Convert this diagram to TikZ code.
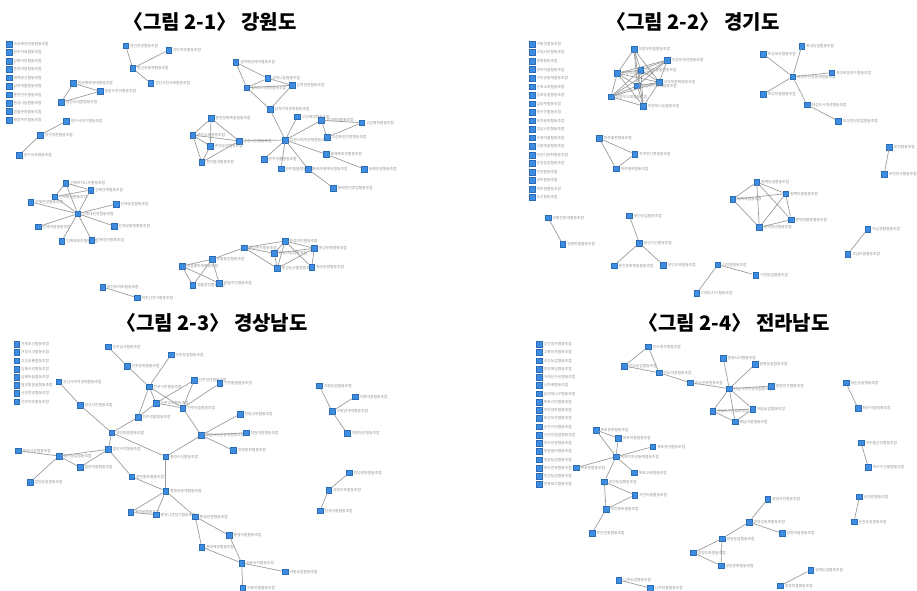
\documentclass[tikz,border=0pt]{standalone}
\usepackage{fontspec}
\newfontfamily\kr{Noto Sans CJK KR}
\definecolor{nodeblue}{HTML}{3D8DE2}
\definecolor{nodeedge}{HTML}{2B6CB3}
\definecolor{linkgray}{HTML}{9C9C9C}
\definecolor{labelgray}{HTML}{909090}

\begin{document}
\begin{tikzpicture}[
    x=0.5pt, y=-0.5pt,
    label distance=0.5pt,
    co/.style={rectangle, draw=nodeedge, line width=0.25pt, fill=nodeblue,
      inner sep=0pt, minimum size=2.9pt, label={[lbl]right:#1}},
    lbl/.style={font=\kr\fontsize{1.9}{2.2}\selectfont, text=labelgray, inner sep=0pt},
    link/.style={draw=linkgray, line width=0.35pt},
    title/.style={font=\kr\bfseries\fontsize{10}{12}\selectfont, inner sep=0pt}
  ]
  \useasboundingbox (0,0) rectangle (917,590);

  % titles
  \node[title] (t1) at (210,22) {〈그림 2-1〉 강원도};
  \node[title] (t2) at (693,22) {〈그림 2-2〉 경기도};
  \node[title] (t3) at (212,323) {〈그림 2-3〉 경상남도};
  \node[title] (t4) at (734,323) {〈그림 2-4〉 전라남도};

  %% 강원도
  \foreach \i/\t in {1/속초해양관광협동조합, 2/원주의료협동조합, 3/강릉커피협동조합,
      4/춘천마을협동조합, 5/태백광산협동조합, 6/삼척재활협동조합, 7/홍천한우협동조합,
      8/횡성나눔협동조합, 9/영월문화협동조합, 10/평창주민협동조합}
    \node[co=\t] (ga\i) at (9,{44+(\i-1)*8.45}) {};

  \node[co=정선관광협동조합] (gb1) at (125.7,45.7) {};
  \node[co=정선약초협동조합] (gb2) at (168.7,50) {};
  \node[co=정선공동체협동조합] (gb0) at (132.7,68.3) {};
  \node[co=정선고한사북협동조합] (gb3) at (150.7,83.3) {};

  \node[co=철원평화생태협동조합] (gc1) at (73.3,83.3) {};
  \node[co=철원두루미협동조합] (gc2) at (100,91.3) {};
  \node[co=철원오대쌀협동조합] (gc3) at (61.3,102.3) {};

  \node[co=양구시래기협동조합] (gd1) at (66.3,121) {};
  \node[co=양구청춘협동조합] (gd2) at (40.3,135) {};
  \node[co=양구교육협동조합] (gd3) at (19.3,155) {};

  \node[co=삼척해양레저협동조합] (ge1) at (235.7,62.3) {};
  \node[co=삼척나눔협동조합] (ge2) at (267.7,78.3) {};
  \node[co=삼척도시재생협동조합] (ge3) at (246.7,87.7) {};
  \node[co=삼척관광협동조합] (ge4) at (292,85.3) {};
  \node[co=삼척지역문화협동조합] (ge5) at (270,109.3) {};

  \node[co=강원사회적경제협동조합] (gh) at (285.3,140) {};
  \node[co=고성해양협동조합] (gf1) at (297.3,116.7) {};
  \node[co=고성명태협동조합] (gf2) at (321.3,120.3) {};
  \node[co=고성평화협동조합] (gf3) at (361.7,122.7) {};
  \node[co=고성통일전망협동조합] (gf4) at (327,137.3) {};
  \node[co=동해묵호항협동조합] (gf5) at (326,154.3) {};
  \node[co=동해관광협동조합] (gf6) at (364.3,169) {};
  \node[co=원주생활협동조합] (gf7) at (264,159.3) {};
  \node[co=원주돌봄협동조합] (gf8) at (281,168.7) {};
  \node[co=동해무릉계곡협동조합] (gf9) at (308,169) {};
  \node[co=동해청년창업협동조합] (gf10) at (333.3,188) {};

  \node[co=춘천시민협동조합] (gk) at (239,141) {};
  \node[co=춘천문화예술협동조합] (gl1) at (211,118.3) {};
  \node[co=춘천교육협동조합] (gl2) at (192.7,135) {};
  \node[co=춘천농업협동조합] (gl3) at (210.3,146.3) {};
  \node[co=춘천봄내협동조합] (gl4) at (201.7,162.3) {};

  \node[co=인제내린천협동조합] (gs) at (77.7,213.7) {};
  \node[co=인제자작나무협동조합] (gs1) at (65.7,183) {};
  \node[co=인제산채협동조합] (gs2) at (90.7,190) {};
  \node[co=인제황태협동조합] (gs3) at (54.7,196.7) {};
  \node[co=인제관광협동조합] (gs4) at (30.7,202) {};
  \node[co=인제농업협동조합] (gs5) at (116,204) {};
  \node[co=인제마을협동조합] (gs6) at (38,226.7) {};
  \node[co=인제공동체협동조합] (gs7) at (114,226) {};
  \node[co=인제레포츠협동조합] (gs8) at (61.7,241) {};
  \node[co=인제청년협동조합] (gs9) at (91.7,240.3) {};

  \node[co=화천토마토협동조합] (gp1) at (102.7,287) {};
  \node[co=화천산천어협동조합] (gp2) at (137,297.7) {};

  \node[co=영월동강협동조합] (gm1) at (212,259.3) {};
  \node[co=영월별마로협동조합] (gm2) at (182,266) {};
  \node[co=영월청정협동조합] (gm3) at (192.7,285.3) {};
  \node[co=영월주민협동조합] (gm4) at (219.3,283.3) {};

  \node[co=횡성한우협동조합] (gr1) at (244.3,247.7) {};
  \node[co=횡성더덕협동조합] (gr2) at (285,241) {};
  \node[co=횡성나눔협동조합] (gr3) at (274.3,253.3) {};
  \node[co=횡성문화협동조합] (gr4) at (314.3,248.3) {};
  \node[co=횡성농산물협동조합] (gr5) at (277.3,268.3) {};
  \node[co=횡성관광협동조합] (gr6) at (311.7,267.3) {};

  \foreach \a/\b in {gb0/gb1, gb0/gb2, gb0/gb3, gc1/gc2, gc2/gc3, gc3/gc1, gd1/gd2, gd2/gd3,
      ge1/ge2, ge1/ge3, ge2/ge3, ge2/ge4, ge3/ge4, ge3/ge5, ge4/ge5, ge5/gh,
      gh/gf1, gh/gf2, gf2/gf3, gf2/gf4, gf4/gf3, gh/gf5, gf5/gf6, gh/gf7, gh/gf8, gh/gf9, gf9/gf10,
      gh/gk, gl1/gl2, gl1/gl3, gl1/gk, gl2/gk, gl2/gl3, gl2/gl4, gl3/gl4, gl4/gk,
      gs/gs1, gs/gs2, gs/gs3, gs/gs4, gs/gs5, gs/gs6, gs/gs7, gs/gs8, gs/gs9,
      gs1/gs2, gs1/gs3, gs3/gs2, gp1/gp2,
      gm2/gm1, gm2/gm3, gm2/gm4, gm1/gm3, gm1/gm4, gm1/gr1,
      gr1/gr2, gr1/gr3, gr1/gr5, gr2/gr3, gr2/gr4, gr2/gr5, gr2/gr6, gr3/gr4, gr3/gr5, gr4/gr5, gr4/gr6}
    \draw[link] (\a) -- (\b);

  %% 경기도
  \foreach \i/\t in {1/가평잣협동조합, 2/고양시민협동조합, 3/광명협동조합, 4/광주마을협동조합,
      5/구리공동체협동조합, 6/군포교육협동조합, 7/김포농업협동조합, 8/남양주협동조합,
      9/동두천협동조합, 10/부천문화협동조합, 11/성남시민협동조합, 12/수원마을협동조합,
      13/시흥갯골협동조합, 14/안산다문화협동조합, 15/안성농업협동조합, 16/안양협동조합,
      17/양주협동조합, 18/여주쌀협동조합, 19/오산협동조합}
    \node[co=\t] (ka\i) at (532,{44+(\i-1)*8.53}) {};

  \node[co=의정부마을협동조합] (kc1) at (634,49.3) {};
  \node[co=의정부청년협동조합] (kc2) at (667.3,60) {};
  \node[co=의정부생활협동조합] (kc3) at (617.3,73.3) {};
  \node[co=의정부돌봄협동조합] (kc4) at (640.7,70) {};
  \node[co=의정부문화협동조합] (kc5) at (659.3,82.3) {};
  \node[co=의정부사회적협동조합] (kc6) at (637.3,85.7) {};
  \node[co=의정부교육협동조합] (kc7) at (611,96.7) {};
  \node[co=의정부나눔협동조합] (kc8) at (643.3,106) {};

  \node[co=파주출판협동조합] (kt1) at (599.3,138.3) {};
  \node[co=파주장단콩협동조합] (kt2) at (634.7,154) {};
  \node[co=파주평화협동조합] (kt3) at (616,168.7) {};

  \node[co=화성시민공동체협동조합] (kp0) at (792.7,76.7) {};
  \node[co=화성포도협동조합] (kp1) at (763.3,54) {};
  \node[co=화성농업협동조합] (kp2) at (801.7,46) {};
  \node[co=화성로컬푸드협동조합] (kp3) at (831.7,72.7) {};
  \node[co=화성마을협동조합] (kp4) at (763.3,94) {};
  \node[co=화성도시재생협동조합] (kp5) at (807,104.7) {};
  \node[co=화성청년창업협동조합] (kp6) at (838.3,121) {};

  \node[co=포천협동조합] (kd1) at (889.3,147) {};
  \node[co=포천한과협동조합] (kd2) at (884.3,174) {};

  \node[co=평택농업협동조합] (kq1) at (756.7,182) {};
  \node[co=평택마을협동조합] (kq2) at (785.7,193.7) {};
  \node[co=평택배협동조합] (kq3) at (732.7,199.3) {};
  \node[co=평택항물류협동조합] (kq4) at (791,219.7) {};
  \node[co=평택청년협동조합] (kq5) at (759.3,227.3) {};

  \node[co=하남생활협동조합] (ke1) at (867.7,229) {};
  \node[co=하남마을협동조합] (ke2) at (847.7,254.3) {};

  \node[co=이천도자기협동조합] (kf1) at (696.7,293.3) {};
  \node[co=이천쌀협동조합] (kf2) at (717.7,264.7) {};
  \node[co=이천농업협동조합] (kf3) at (755.7,275) {};

  \node[co=양평친환경협동조합] (kg1) at (548,217.7) {};
  \node[co=양평마을협동조합] (kg2) at (562.7,244) {};

  \node[co=용인시민협동조합] (ks0) at (639.3,243) {};
  \node[co=용인농업협동조합] (ks1) at (629.3,215.7) {};
  \node[co=용인문화예술협동조합] (ks2) at (614,265.7) {};
  \node[co=용인교육협동조합] (ks3) at (663.3,265) {};

  \foreach \a/\b in {kc1/kc3, kc1/kc4, kc1/kc6, kc1/kc8, kc1/kc5, kc2/kc3, kc2/kc4, kc2/kc6,
      kc2/kc7, kc2/kc5, kc3/kc4, kc3/kc6, kc3/kc7, kc3/kc8, kc3/kc5, kc4/kc6, kc4/kc7,
      kc4/kc8, kc4/kc5, kc6/kc7, kc6/kc8, kc6/kc5, kc7/kc8, kc7/kc5, kc8/kc5,
      kt1/kt2, kt2/kt3, kt3/kt1,
      kp0/kp1, kp0/kp2, kp0/kp3, kp0/kp4, kp0/kp5, kp5/kp6, kd1/kd2,
      kq1/kq2, kq1/kq3, kq1/kq4, kq1/kq5, kq2/kq3, kq2/kq4, kq2/kq5, kq3/kq5, kq4/kq5,
      ke1/ke2, kf1/kf2, kf2/kf3, kg1/kg2, ks0/ks1, ks0/ks2, ks0/ks3}
    \draw[link] (\a) -- (\b);

  %% 경상남도
  \foreach \i/\t in {1/거제조선협동조합, 2/거창사과협동조합, 3/고성공룡협동조합, 4/김해시민협동조합,
      5/남해마늘협동조합, 6/밀양얼음골협동조합, 7/사천항공협동조합, 8/산청약초협동조합}
    \node[co=\t] (na\i) at (16.7,{344.3+(\i-1)*8.2}) {};

  \node[co=진주실크협동조합] (nb1) at (108,346.7) {};
  \node[co=진주문화협동조합] (nb2) at (127,366) {};
  \node[co=진주농업협동조합] (nb3) at (171,354.7) {};
  \node[co=진주시민협동조합] (nb4) at (149,386.7) {};
  \node[co=진주교육협동조합] (nb5) at (156,403) {};
  \node[co=진주마을협동조합] (nb6) at (182.7,408) {};
  \node[co=진주청년협동조합] (nb7) at (194,380.3) {};
  \node[co=진주돌봄협동조합] (nb8) at (219.7,383.3) {};
  \node[co=진주생활협동조합] (nb9) at (138,417.3) {};

  \node[co=창원시민공동체협동조합] (nc0) at (201.3,435.3) {};
  \node[co=창원교육협동조합] (nc1) at (240,414) {};
  \node[co=창원마을협동조합] (nc2) at (246,432.7) {};
  \node[co=창원문화협동조합] (nc3) at (233.5,450.5) {};

  \node[co=양산사회적경제협동조합] (nd1) at (58.7,381.7) {};
  \node[co=양산시민협동조합] (nd2) at (80,405) {};
  \node[co=양산마을협동조합] (nd3) at (111.7,432.7) {};

  \node[co=함안수박협동조합] (ne0) at (108.3,449.3) {};
  \node[co=합천황토협동조합] (ne1) at (131.7,476.7) {};
  \node[co=함안농업협동조합] (nf1) at (59,456) {};
  \node[co=함안마을협동조합] (nf2) at (80,467.3) {};
  \node[co=함양산삼협동조합] (nf3) at (18.3,450.7) {};
  \node[co=함양농업협동조합] (nf4) at (30,482.3) {};

  \node[co=통영수산협동조합] (ng) at (165.7,456.7) {};
  \node[co=통영공동체협동조합] (nh) at (165.7,491) {};
  \node[co=통영굴협동조합] (ni1) at (130.7,512.3) {};
  \node[co=통영나전칠기협동조합] (ni2) at (156,514.7) {};
  \node[co=통영관광협동조합] (nj) at (195.3,516.7) {};
  \node[co=통영마을협동조합] (nk1) at (229,535.3) {};
  \node[co=통영해양협동조합] (nk2) at (201.7,547) {};
  \node[co=하동녹차협동조합] (nl) at (241.7,563) {};
  \node[co=하동농업협동조합] (nm1) at (285,571.7) {};
  \node[co=하동마을협동조합] (nm2) at (242.7,588) {};

  \node[co=의령망개떡협동조합] (no0) at (332,411.3) {};
  \node[co=의령농업협동조합] (no1) at (319.3,385.7) {};
  \node[co=의령마을협동조합] (no2) at (355,396.7) {};
  \node[co=의령청년협동조합] (no3) at (347,433.3) {};

  \node[co=창녕양파협동조합] (np1) at (349.3,472.7) {};
  \node[co=창녕우포협동조합] (np2) at (328.7,490) {};
  \node[co=창녕마을협동조합] (np3) at (320,510.7) {};

  \foreach \a/\b in {nb1/nb2, nb2/nb4, nb3/nb4, nb4/nb9, nb4/nb5, nb4/nb6, nb5/nb6, nb5/nb7,
      nb9/nb5, nb6/nb7, nb6/nb8, nb6/nc0, nc0/nc1, nc0/nc2, nc0/nc3, nc0/ng,
      nd1/nd2, nd2/nd3, nd3/nb9, nd3/ne0, nd3/ng,
      ne0/nf1, ne0/nf2, nf1/nf2, nf1/nf3, nf1/nf4, ne0/ne1, ne1/nh, ng/nh,
      nh/ni1, nh/ni2, ni1/ni2, nh/nj, nj/nk1, nj/nk2, nk1/nl, nk2/nl, nl/nm1, nl/nm2,
      no0/no1, no0/no2, no0/no3, np1/np2, np2/np3}
    \draw[link] (\a) -- (\b);

  %% 전라남도
  \foreach \i/\t in {1/강진청자협동조합, 2/고흥유자협동조합, 3/곡성농업협동조합, 4/광양매실협동조합,
      5/구례산수유협동조합, 6/나주배협동조합, 7/담양대나무협동조합, 8/목포시민협동조합,
      9/무안양파협동조합, 10/보성녹차협동조합, 11/순천시민협동조합, 12/신안천일염협동조합,
      13/여수관광협동조합, 14/영광굴비협동조합, 15/영암농업협동조합, 16/완도전복협동조합,
      17/장성농업협동조합, 18/장흥표고협동조합}
    \node[co=\t] (ja\i) at (539.3,{344.3+(\i-1)*8.24}) {};

  \node[co=진도홍주협동조합] (jt1) at (648.3,346.7) {};
  \node[co=진도농업협동조합] (jt2) at (624.3,366) {};
  \node[co=진도마을협동조합] (jt3) at (659,372.7) {};
  \node[co=진도관광협동조합] (jt4) at (690.3,382.7) {};

  \node[co=전남사회적경제협동조합] (js) at (729.3,388.7) {};
  \node[co=함평나비협동조합] (ju1) at (723.3,358.3) {};
  \node[co=함평농업협동조합] (ju2) at (755,364.3) {};
  \node[co=함평한우협동조합] (ju3) at (771.3,386) {};
  \node[co=해남고구마협동조합] (ju4) at (712.7,411) {};
  \node[co=해남농업협동조합] (ju5) at (752.7,409) {};
  \node[co=해남마을협동조합] (ju6) at (735,421.7) {};

  \node[co=화순농업협동조합] (jr1) at (846,382.7) {};
  \node[co=화순마을협동조합] (jr2) at (858,408.3) {};
  \node[co=여수돌산갓협동조합] (jr3) at (861,442.7) {};
  \node[co=여수수산물협동조합] (jr4) at (868.3,467.3) {};
  \node[co=순천만협동조합] (jr5) at (859.3,496.7) {};
  \node[co=순천농업협동조합] (jr6) at (854,521.7) {};

  \node[co=목포지역공동체협동조합] (jv0) at (616,456.7) {};
  \node[co=목포문화협동조합] (jv1) at (596,430) {};
  \node[co=목포마을협동조합] (jv2) at (618.3,438.3) {};
  \node[co=목포청년협동조합] (jv3) at (652.7,446.7) {};
  \node[co=목포항협동조합] (jv4) at (576,467.7) {};
  \node[co=목포교육협동조합] (jv5) at (634.3,472.7) {};

  \node[co=무안농업협동조합] (jw1) at (604.3,481.7) {};
  \node[co=무안마을협동조합] (jw2) at (634.7,495) {};
  \node[co=무안황토협동조합] (jw3) at (606,509.3) {};
  \node[co=무안연꽃협동조합] (jw4) at (592,533.3) {};

  \node[co=광양시민협동조합] (jx1) at (767.7,499) {};
  \node[co=광양공동체협동조합] (jx2) at (749,522) {};
  \node[co=광양마을협동조합] (jx3) at (782,533.3) {};
  \node[co=광양농업협동조합] (jx4) at (722,538.7) {};
  \node[co=광양교육협동조합] (jx5) at (693.3,552.7) {};
  \node[co=광양문화협동조합] (jx6) at (721,565.7) {};

  \node[co=나주농업협동조합] (jy1) at (618.7,580) {};
  \node[co=나주마을협동조합] (jy2) at (650.3,588) {};
  \node[co=영광농업협동조합] (jy3) at (810.7,570) {};
  \node[co=영광마을협동조합] (jy4) at (780.3,585.7) {};

  \foreach \a/\b in {jt1/jt2, jt1/jt3, jt2/jt3, jt3/jt4, jt4/js,
      js/ju1, js/ju2, js/ju3, js/ju4, js/ju5, js/ju6, ju4/ju5, ju4/ju6, ju5/ju6,
      jr1/jr2, jr3/jr4, jr5/jr6,
      jv1/jv2, jv1/jv0, jv2/jv0, jv0/jv3, jv0/jv4, jv0/jv5, jv0/jw1,
      jw1/jw2, jw1/jw3, jw2/jw3, jw3/jw4,
      jx1/jx2, jx2/jx3, jx2/jx4, jx4/jx5, jx4/jx6, jx5/jx6, jy1/jy2, jy3/jy4}
    \draw[link] (\a) -- (\b);
\end{tikzpicture}
\end{document}
